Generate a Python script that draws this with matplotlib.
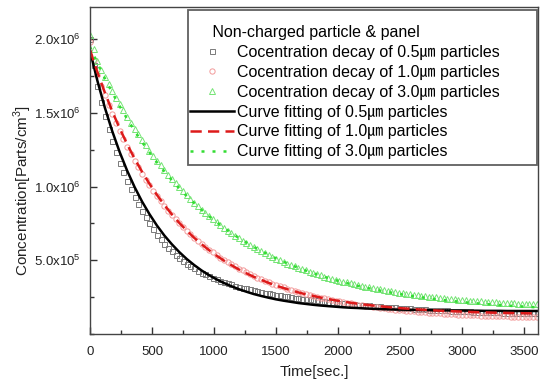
import numpy as np
import matplotlib
matplotlib.use("Agg")
import matplotlib.pyplot as plt
from matplotlib.patches import Rectangle
from matplotlib.ticker import MultipleLocator, FixedLocator
from matplotlib.font_manager import FontProperties

# measured concentrations, read every 30 s, thousands of parts/cm3
decay_05 = [2000, 1825, 1680, 1572, 1480, 1390, 1310, 1232, 1160, 1097,
            1040, 983, 930, 880, 835, 791, 750, 711, 675, 642,
            612, 585, 560, 536, 515, 496, 478, 461, 445, 430,
            416, 404, 392, 381, 370, 361, 352, 344, 336, 329,
            322, 315, 309, 303, 297, 291, 286, 281, 276, 271,
            267, 263, 259, 255, 251, 247, 244, 240, 237, 234,
            231, 228, 225, 222, 219, 216, 214, 211, 209, 206,
            204, 202, 200, 198, 196, 194, 192, 190, 188, 186,
            184, 182, 180, 178, 177, 175, 174, 172, 171, 169,
            168, 166, 165, 163, 162, 161, 160, 158, 157, 156,
            155, 154, 153, 152, 151, 150, 149, 148, 147, 146,
            146, 145, 144, 143, 143, 142, 142, 141, 141, 140, 140]
decay_10 = [1980, 1860, 1760, 1686, 1620, 1554, 1492, 1433, 1377, 1323,
            1272, 1223, 1176, 1132, 1089, 1048, 1009, 972, 936, 902,
            869, 838, 808, 780, 752, 726, 701, 677, 654, 632,
            611, 591, 572, 554, 536, 519, 503, 487, 472, 458,
            444, 431, 418, 406, 394, 383, 372, 362, 352, 342,
            333, 324, 316, 308, 300, 292, 285, 278, 271, 264,
            258, 252, 247, 241, 236, 231, 226, 221, 217, 212,
            208, 204, 200, 196, 192, 188, 185, 181, 178, 175,
            172, 169, 166, 163, 161, 158, 156, 153, 151, 149,
            147, 145, 143, 141, 139, 137, 136, 134, 133, 131,
            130, 129, 128, 127, 126, 125, 124, 123, 122, 121,
            120, 119, 119, 118, 118, 117, 117, 116, 116, 115, 115]
decay_30 = [2030, 1935, 1850, 1795, 1745, 1697, 1650, 1605, 1560, 1517,
            1475, 1434, 1393, 1355, 1317, 1281, 1245, 1211, 1177, 1145,
            1113, 1082, 1052, 1023, 995, 968, 941, 916, 891, 867,
            844, 822, 800, 779, 759, 739, 720, 702, 684, 667,
            650, 634, 618, 603, 588, 574, 561, 548, 535, 523,
            511, 500, 489, 478, 468, 458, 449, 440, 431, 422,
            414, 406, 398, 390, 383, 376, 369, 362, 356, 350,
            344, 338, 332, 326, 321, 316, 311, 306, 302, 297,
            293, 289, 285, 281, 277, 273, 270, 266, 263, 260,
            257, 254, 251, 248, 245, 242, 240, 237, 235, 233,
            231, 229, 227, 225, 223, 221, 219, 217, 216, 214,
            213, 211, 210, 208, 207, 206, 205, 204, 203, 202, 201]

# fitted curves, every 60 s, thousands of parts/cm3
fit_05 = [1925, 1719, 1537, 1376, 1234, 1108, 997, 899, 813, 736, 668, 609, 556, 509, 468,
          431, 399, 371, 346, 324, 304, 287, 271, 258, 246, 235, 226, 218, 210, 204, 198,
          193, 189, 185, 181, 178, 176, 173, 171, 169, 168, 166, 165, 164, 163, 162, 161,
          160, 160, 159, 159, 158, 158, 157, 157, 157, 156, 156, 156, 156, 156]
fit_10 = [1930, 1778, 1639, 1511, 1395, 1288, 1190, 1101, 1019, 944, 875, 812, 754, 702, 653,
          609, 569, 532, 498, 467, 438, 412, 388, 367, 347, 328, 312, 296, 282, 269, 258,
          247, 237, 228, 220, 212, 205, 199, 193, 188, 183, 178, 174, 171, 167, 164, 161,
          158, 156, 154, 152, 150, 148, 147, 145, 144, 143, 142, 141, 140, 139]
fit_30 = [1950, 1839, 1735, 1638, 1546, 1460, 1379, 1303, 1232, 1165, 1103, 1044, 988, 936, 888,
          842, 799, 759, 721, 685, 652, 621, 591, 564, 538, 513, 490, 469, 449, 430, 412,
          396, 380, 365, 351, 339, 326, 315, 304, 294, 285, 276, 268, 260, 252, 246, 239,
          233, 227, 222, 217, 212, 208, 204, 200, 196, 193, 189, 187, 184, 181]

y_ticks = [5.0e5, 1.0e6, 1.5e6, 2.0e6]
y_tick_labels = [r"5.0x10$^5$", r"1.0x10$^6$", r"1.5x10$^6$", r"2.0x10$^6$"]

t_meas = np.arange(len(decay_05)) * 30
t_fit = np.arange(len(fit_05)) * 60

plt.rcParams["font.family"] = ["Liberation Sans", "Noto Sans CJK KR", "DejaVu Sans"]
plt.rcParams["mathtext.fontset"] = "custom"
plt.rcParams["mathtext.rm"] = "Liberation Sans"

fig = plt.figure(figsize=(5.45, 3.83), dpi=100)
ax = fig.add_axes([0.165, 0.128, 0.822, 0.854])

k = 1000.0
ax.plot(t_meas, np.array(decay_05) * k, ls="none", marker="s", ms=3.6, mfc="none",
        mec="#7a7a7a", mew=0.7, label="Cocentration decay of 0.5㎛ particles")
ax.plot(t_meas, np.array(decay_10) * k, ls="none", marker="o", ms=3.8, mfc="none",
        mec="#f29a9a", mew=0.7, label="Cocentration decay of 1.0㎛ particles")
ax.plot(t_meas, np.array(decay_30) * k, ls="none", marker="^", ms=4.0, mfc="none",
        mec="#74e474", mew=0.7, label="Cocentration decay of 3.0㎛ particles")
ax.plot(t_fit, np.array(fit_05) * k, color="black", lw=1.8,
        label="Curve fitting of 0.5㎛ particles")
ax.plot(t_fit, np.array(fit_10) * k, color="#dd1a1a", lw=1.8, dashes=(4.5, 2.5),
        label="Curve fitting of 1.0㎛ particles")
ax.plot(t_fit, np.array(fit_30) * k, color="#33dd33", lw=1.8, dashes=(1.2, 3.2),
        label="Curve fitting of 3.0㎛ particles")

ax.set_xlim(0, 3610)
ax.set_ylim(0, 2.22e6)
ax.xaxis.set_major_locator(MultipleLocator(500))
ax.xaxis.set_minor_locator(MultipleLocator(250))
ax.yaxis.set_major_locator(FixedLocator(y_ticks))
ax.set_yticklabels(y_tick_labels)
ax.yaxis.set_minor_locator(MultipleLocator(2.5e5))
ax.tick_params(which="both", direction="in", top=False, right=False, labelsize=9.5,
               color="#333333", labelcolor="#222222")
ax.tick_params(axis="x", which="major", pad=9)
ax.tick_params(axis="y", which="major", pad=7)
ax.tick_params(which="major", length=5, width=1)
ax.tick_params(which="minor", length=3, width=1)
for sp in ax.spines.values():
    sp.set_color("#444444")
    sp.set_linewidth(1.0)

ax.set_xlabel("Time[sec.]", fontsize=11, color="#222222", labelpad=5)
ax.set_ylabel(r"Concentration[Parts/cm$^3$]", fontsize=11, color="#222222")
ax.yaxis.set_label_coords(-0.124, 0.44)

# legend box drawn separately so its size follows the original
ax.add_patch(Rectangle((0.219, 0.517), 0.779, 0.474, transform=ax.transAxes,
                       facecolor="white", edgecolor="#606060", lw=1.3, zorder=4))
leg = ax.legend(loc="upper left", bbox_to_anchor=(0.223, 0.944), borderaxespad=0,
                title="     Non-charged particle & panel", alignment="left",
                title_fontsize=11.5, handlelength=2.75, handletextpad=0.2,
                labelspacing=0.3, frameon=False, borderpad=0,
                prop=FontProperties(family=["Liberation Sans", "Noto Sans CJK KR"], size=11.5))
leg.set_zorder(5)

fig.savefig("out.png", dpi=100)
